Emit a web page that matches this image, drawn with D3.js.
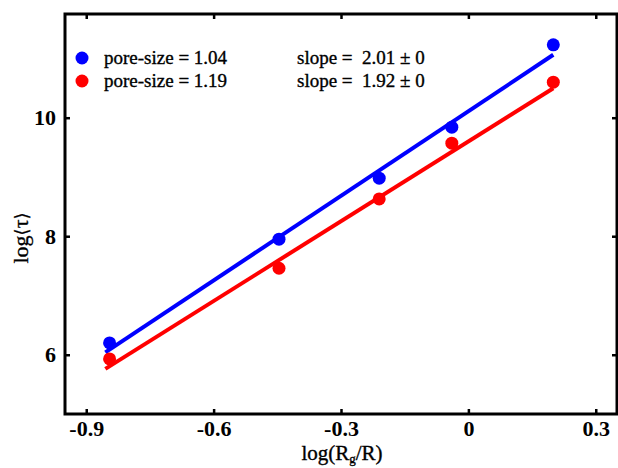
<!DOCTYPE html>
<html><head><meta charset="utf-8">
<script src="https://cdn.jsdelivr.net/npm/d3@7/dist/d3.min.js"></script>
<style>body{margin:0;background:#fff}svg{display:block}text{font-family:"Liberation Serif","Times New Roman",serif;white-space:pre}</style>
</head><body><svg id="c" width="618" height="468"></svg>
<script>
const xValues = [-0.845, -0.446, -0.21, -0.039, 0.2];
const blueValues = [6.2, 7.95, 8.98, 9.84, 11.23];
const redValues = [5.93, 7.46, 8.63, 9.57, 10.6];
const seriesNames = ["pore-size = 1.04", "pore-size = 1.19"];
const slopeLabels = ["slope =  2.01 \u00b1 0", "slope =  1.92 \u00b1 0"];
const fitSlopes = [4.76, 4.49];
const fitIntercepts = [10.11, 9.60];
const fitRange = [-0.855, 0.2];
const xTicks = [-0.9, -0.6, -0.3, 0, 0.3];
const xTickLabels = ["-0.9", "-0.6", "-0.3", "0", "0.3"];
const yTicks = [6, 8, 10];
const colors = ["#0000ff", "#ff0000"];

const svg = d3.select("#c");
const L = 65, R = 617, T = 14, B = 414;
const x = d3.scaleLinear().domain([-0.95, 0.35]).range([L, R]);
const y = d3.scaleLinear().domain([5, 11.75]).range([B, T]);

const series = [blueValues, redValues];

series.forEach((vals, i) => {
  svg.append("line")
    .attr("x1", x(fitRange[0])).attr("y1", y(fitIntercepts[i] + fitSlopes[i] * fitRange[0]))
    .attr("x2", x(fitRange[1])).attr("y2", y(fitIntercepts[i] + fitSlopes[i] * fitRange[1]))
    .attr("stroke", colors[i]).attr("stroke-width", 4);
});
series.forEach((vals, i) => {
  svg.append("g").selectAll("circle").data(vals).join("circle")
    .attr("cx", (d, j) => x(xValues[j])).attr("cy", d => y(d))
    .attr("r", 6.5).attr("fill", colors[i]);
});

const gB = svg.append("g").attr("transform", `translate(0,${B})`)
  .call(d3.axisBottom(x).tickValues(xTicks).tickSize(-5).tickPadding(6).tickFormat((d, i) => xTickLabels[i]));
const gT = svg.append("g").attr("transform", `translate(0,${T})`)
  .call(d3.axisTop(x).tickValues(xTicks).tickSize(-5).tickFormat(""));
const gL = svg.append("g").attr("transform", `translate(${L},0)`)
  .call(d3.axisLeft(y).tickValues(yTicks).tickSize(-5).tickPadding(9).tickFormat(d3.format("d")));
const gR = svg.append("g").attr("transform", `translate(${R},0)`)
  .call(d3.axisRight(y).tickValues(yTicks).tickSize(-5).tickFormat(""));
[gB, gT, gL, gR].forEach(g => {
  g.select(".domain").remove();
  g.selectAll(".tick line").attr("stroke", "#000").attr("stroke-width", 2.5);
  g.selectAll(".tick text").attr("font-size", 22).attr("font-weight", "bold").attr("fill", "#000")
    .style("font-family", "'Liberation Serif', serif");
});
svg.append("rect").attr("x", L).attr("y", T).attr("width", R - L).attr("height", B - T)
  .attr("fill", "none").attr("stroke", "#000").attr("stroke-width", 3);

series.forEach((vals, i) => {
  const cy = 58 + i * 23;
  svg.append("circle").attr("cx", 82).attr("cy", cy).attr("r", 6.5).attr("fill", colors[i]);
  svg.append("text").attr("x", 104).attr("y", cy + 6).attr("font-size", 19)
    .attr("stroke", "#000").attr("stroke-width", 0.35).text(seriesNames[i]);
  svg.append("text").attr("x", 297).attr("y", cy + 6).attr("font-size", 19)
    .attr("stroke", "#000").attr("stroke-width", 0.35).text(slopeLabels[i]);
});

const xl = svg.append("text").attr("x", 342).attr("y", 460).attr("text-anchor", "middle")
  .attr("font-size", 21).attr("stroke", "#000").attr("stroke-width", 0.35);
xl.append("tspan").text("log(R");
xl.append("tspan").attr("font-size", 13).attr("dy", 3).text("g");
xl.append("tspan").attr("dy", -3).text("/R)");
const yl = svg.append("text").attr("transform", "translate(28,238) rotate(-90)").attr("text-anchor", "middle")
  .attr("font-size", 22).attr("stroke", "#000").attr("stroke-width", 0.35);
yl.append("tspan").text("log");
yl.append("tspan").style("font-family", "'DejaVu Sans', sans-serif").attr("font-size", 18).text("\u27e8");
yl.append("tspan").text("\u03c4");
yl.append("tspan").style("font-family", "'DejaVu Sans', sans-serif").attr("font-size", 18).text("\u27e9");
</script></body></html>
